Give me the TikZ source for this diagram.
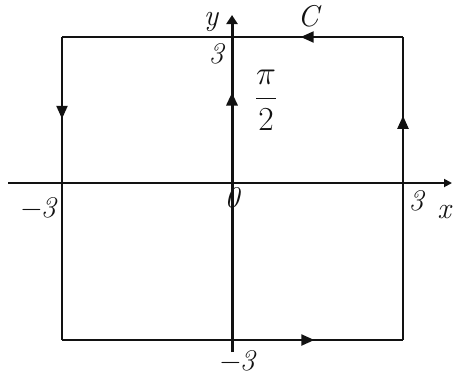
\documentclass[tikz,border=0pt]{standalone}
\usepackage{amsmath}
\usepackage{fontspec}
\usepackage{tikz}
\usetikzlibrary{
    arrows.meta,
    decorations.markings,
    positioning
}
\definecolor{ink}{RGB}{18,18,18}
\tikzset{
    line cap=round,
    line join=round,
    contour/.style={
        draw=ink,
        line width=2.2pt
    },
    xaxis/.style={
        draw=ink,
        line width=1.8pt
    },
    yaxis/.style={
        draw=ink,
        line width=3pt
    },
    midarrow/.style={
        postaction={decorate},
        decoration={
            markings,
            mark=at position #1 with {\arrow{Triangle[length=13pt, width=11pt]}}
        }
    },
    handlabel/.style={
        font=\fontsize{30}{34}\selectfont\itshape,
        text=ink,
        inner sep=0pt
    }
}

\begin{document}
\begin{tikzpicture}[x=1pt, y=-1pt]
\useasboundingbox (0,0) rectangle (454,376);

% Corners and axis ends
\coordinate (ne) at (403,37);
\coordinate (nw) at (62,37);
\coordinate (sw) at (62,340);
\coordinate (se) at (403,340);
\coordinate (xl) at (8,183);
\coordinate (xr) at (452,183);
\coordinate (yb) at (232,352);
\coordinate (yt) at (232,15);

% Axes
\draw[xaxis, -{Triangle[length=8pt, width=8pt]}] (xl) -- (xr);
\draw[yaxis, midarrow=0.77, -{Triangle[length=9pt, width=11pt]}] (yb) -- (yt);

% Contour C
\draw[contour, midarrow=0.30] (ne) -- (nw);
\draw[contour, midarrow=0.27] (nw) -- (sw);
\draw[contour, midarrow=0.74] (sw) -- (se);
\draw[contour, midarrow=0.74] (se) -- (ne);

% Labels
\node[handlabel] (ylab) at (211,22) {y};
\node[handlabel] (ytop) at (216,54) {3};
\node[handlabel] (clab) at (308,16) {C};
\node[handlabel, font=\fontsize{24}{28}\selectfont, scale=1.35] (half) at (266,100) {$\dfrac{\pi}{2}$};
\node[handlabel] (xneg) at (37,208) {−3};
\node[handlabel] (orig) at (232,198) {0};
\node[handlabel] (xpos) at (416,201) {3};
\node[handlabel] (xlab) at (444,212) {x};
\node[handlabel] (yneg) at (236,361) {−3};

\end{tikzpicture}
\end{document}
